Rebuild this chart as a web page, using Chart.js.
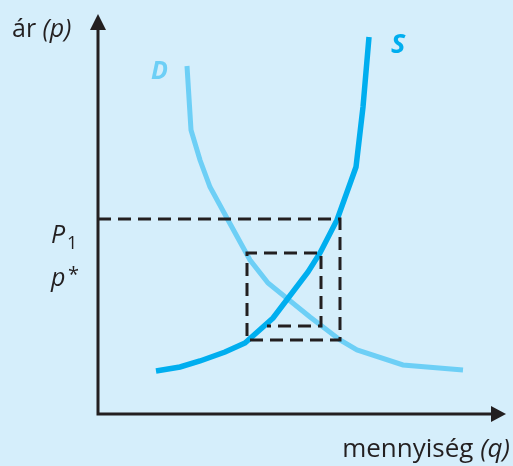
<!DOCTYPE html>
<html>
<head>
<meta charset="utf-8">
<script src="https://cdn.jsdelivr.net/npm/chart.js@4/dist/chart.umd.min.js"></script>
<style>
  html, body { margin: 0; padding: 0; background: #d5eefb; }
  #wrap { position: relative; width: 513px; height: 466px; }
</style>
</head>
<body>
<div id="wrap"><canvas id="chart"></canvas></div>
<script>
/* keresleti (D) és kínálati (S) görbe, P1 és p* árszinttel */

// D görbe: mennyiség / ár
const D_Q = [22.25, 23.25, 25.5, 28, 32.5, 38, 42.5, 53, 60.5, 64.75, 76.25, 91.25];
const D_P = [87, 71, 63.5, 56.75, 48.5, 38.5, 32.75, 24.25, 18.5, 16, 12.25, 11];

// S görbe
const S_Q = [14.5, 20.5, 25.5, 31.75, 36.75, 43.75, 52.5, 55.5, 59.75, 64.5, 66.25, 67.75];
const S_P = [10.75, 11.75, 13.25, 15.5, 17.75, 24, 35.5, 40.25, 48.5, 61.75, 76.75, 94.25];

// szaggatott segédvonalak (P1 vonal + két téglalap)
const P1 = 48.75;
const P_STAR = 40.25;
const DASH_Q = [0, 60.5, 60.5, 37.25, 37.25, 55.75, 55.75, 42.25];
const DASH_P = [P1, P1, 18.5, 18.5, P_STAR, P_STAR, 22, 22];

const AXIS_MAX_Q = 102;
const AXIS_MAX_P = 100;

const C = {
  bg: '#d5eefb',
  d: '#6dcff6',
  s: '#00aeef',
  ink: '#231f20'
};

function pts(qs, ps) {
  return qs.map(function (q, i) { return { x: q, y: ps[i] }; });
}

const FONT = '"Open Sans", "Noto Sans", sans-serif';

const axesAndText = {
  id: 'axesAndText',
  beforeDatasetsDraw: function (chart) {
    const ctx = chart.ctx;
    const x = chart.scales.x, y = chart.scales.y;
    const x0 = x.getPixelForValue(0), y0 = y.getPixelForValue(0);
    const yTop = y.getPixelForValue(AXIS_MAX_P);
    const xEnd = x.getPixelForValue(AXIS_MAX_Q);
    ctx.save();
    ctx.strokeStyle = C.ink;
    ctx.fillStyle = C.ink;
    ctx.lineWidth = 3;
    ctx.beginPath();
    ctx.moveTo(x0, yTop + 10);
    ctx.lineTo(x0, y0);
    ctx.lineTo(xEnd - 10, y0);
    ctx.stroke();
    // nyilak
    ctx.beginPath();
    ctx.moveTo(x0, yTop);
    ctx.lineTo(x0 - 8, yTop + 16);
    ctx.lineTo(x0 + 8, yTop + 16);
    ctx.closePath();
    ctx.fill();
    ctx.beginPath();
    ctx.moveTo(xEnd, y0);
    ctx.lineTo(xEnd - 15, y0 - 8);
    ctx.lineTo(xEnd - 15, y0 + 8);
    ctx.closePath();
    ctx.fill();
    ctx.restore();
  },
  afterDraw: function (chart) {
    const ctx = chart.ctx;
    ctx.save();
    ctx.textBaseline = 'alphabetic';
    ctx.fillStyle = C.ink;

    // ár (p)
    ctx.font = '25px ' + FONT;
    ctx.fillText('ár ', 12, 37);
    let w = ctx.measureText('ár ').width;
    ctx.font = 'italic 25px ' + FONT;
    ctx.fillText('(p)', 12 + w, 37);

    // P1
    ctx.font = 'italic 25px ' + FONT;
    ctx.fillText('P', 51, 243);
    ctx.font = '18px ' + FONT;
    ctx.fillText('1', 67, 249);

    // p*
    ctx.font = 'italic 25px ' + FONT;
    ctx.fillText('p', 51, 286);
    ctx.font = '20px ' + FONT;
    ctx.fillText('*', 68, 281);

    // mennyiség (q)
    ctx.font = '26px ' + FONT;
    const a = 'mennyiség ';
    const wa = ctx.measureText(a).width;
    ctx.font = 'italic 26px ' + FONT;
    const wb = ctx.measureText('(q)').width;
    const start = 510 - wa - wb;
    ctx.font = '26px ' + FONT;
    ctx.fillText(a, start, 457);
    ctx.font = 'italic 26px ' + FONT;
    ctx.fillText('(q)', start + wa, 457);

    // D, S címkék
    ctx.font = 'italic bold 25px ' + FONT;
    ctx.fillStyle = C.d;
    ctx.fillText('D', 151, 79);
    ctx.font = 'italic bold 27px ' + FONT;
    ctx.fillStyle = C.s;
    ctx.fillText('S', 391, 53);
    ctx.restore();
  }
};

new Chart(document.getElementById('chart'), {
  type: 'scatter',
  data: {
    datasets: [
      {
        label: 'D',
        data: pts(D_Q, D_P),
        showLine: true,
        borderColor: C.d,
        borderWidth: 5,
        pointRadius: 0,
        tension: 0,
        order: 3
      },
      {
        label: 'S',
        data: pts(S_Q, S_P),
        showLine: true,
        borderColor: C.s,
        borderWidth: 5.5,
        pointRadius: 0,
        tension: 0,
        order: 2
      },
      {
        label: 'segédvonal',
        data: pts(DASH_Q, DASH_P),
        showLine: true,
        borderColor: C.ink,
        borderWidth: 3,
        borderDash: [13, 7],
        pointRadius: 0,
        tension: 0,
        order: 1
      }
    ]
  },
  options: {
    responsive: true,
    maintainAspectRatio: false,
    animation: false,
    layout: { padding: { left: 98, right: 15, top: 14, bottom: 52 } },
    plugins: {
      legend: { display: false },
      tooltip: { enabled: false }
    },
    scales: {
      x: { type: 'linear', min: 0, max: 100, display: false },
      y: { type: 'linear', min: 0, max: 100, display: false }
    }
  },
  plugins: [axesAndText]
});
</script>
</body>
</html>
